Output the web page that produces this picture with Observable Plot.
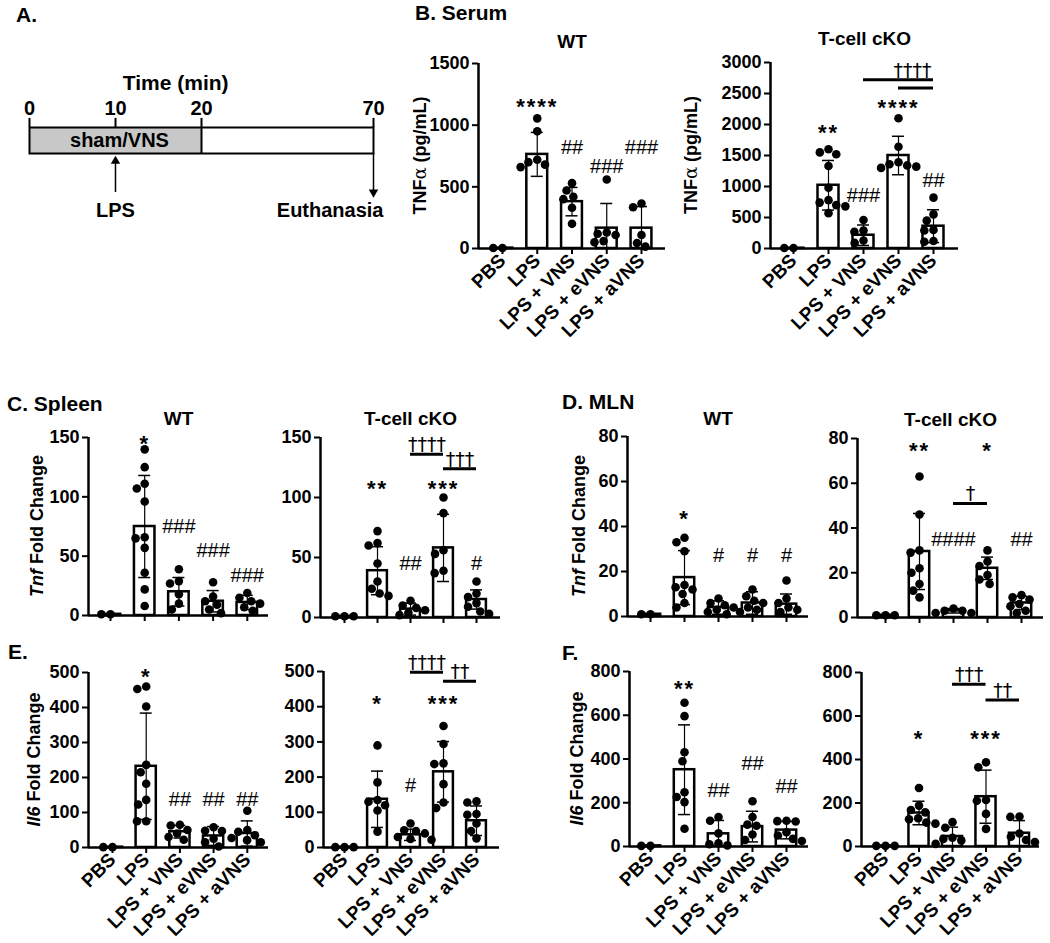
<!DOCTYPE html>
<html><head><meta charset="utf-8">
<script src="https://cdn.jsdelivr.net/npm/d3@7"></script>
<script src="https://cdn.jsdelivr.net/npm/@observablehq/plot@0.6"></script>
<style>
html,body{margin:0;padding:0;background:#fff;overflow:hidden;}
#fig{position:relative;width:1050px;height:943px;background:#fff;overflow:hidden;font-family:"Liberation Sans",Arial,sans-serif;}
#fig svg{position:absolute;left:0;top:0;}
</style></head>
<body><div id="fig"></div>
<script>
// ---------------- DATA ----------------
const categories = ["PBS", "LPS", "LPS + VNS", "LPS + eVNS", "LPS + aVNS"];

// Panel A timeline
const timeTicks = [0, 10, 20, 70];
const shamWindow = [{start: 0, end: 20, label: "sham/VNS"}];
const timeEvents = [{t: 10, label: "LPS", dir: "up"}, {t: 70, label: "Euthanasia", dir: "down"}];

// B. Serum TNFa (pg/mL)
const serumWT_mean = [3, 763, 380, 165, 165];
const serumWT_sd = [0, 178, 115, 200, 175];
const serumWT_points = [[4, 4], [1055, 950, 720, 700, 680, 660], [530, 470, 420, 400, 330, 200], [560, 130, 120, 110, 60, 50], [365, 335, 110, 45, 15]];
const serumWT_sig = ["", "****", "##", "###", "###"];
const serumWT_sigY = [null, 1200, 822, 668, 822];

const serumKO_mean = [5, 1020, 214, 1500, 360];
const serumKO_sd = [0, 400, 165, 310, 265];
const serumKO_points = [[8, 8], [1600, 1550, 1520, 1330, 980, 780, 740, 700, 680, 570], [460, 290, 270, 130, 90], [2100, 1640, 1390, 1360, 1340, 1320, 1300], [820, 550, 450, 300, 290, 120, 110]];
const serumKO_sig = ["", "**", "###", "****", "##"];
const serumKO_sigY = [null, 1955, 857, 2357, 1098];
const serumKO_brackets = [{from: "LPS + VNS", to: "LPS + aVNS", y: 2721, label: "††††", labelAt: 3.4}, {from: "LPS + eVNS", to: "LPS + aVNS", y: 2587, label: ""}];

// C. Spleen Tnf fold change
const spleenTnfWT_mean = [1, 75, 20, 12, 11];
const spleenTnfWT_sd = [0, 43, 12, 9, 6];
const spleenTnfWT_points = [[1, 1], [140, 125, 111, 107, 96, 66, 65, 57, 36, 22, 8], [39, 29, 27, 18, 10, 5], [28, 16, 12, 9, 5, 2], [19, 15, 12, 10, 7, 4]];
const spleenTnfWT_sig = ["", "*", "###", "###", "###"];
const spleenTnfWT_sigY = [null, 150, 75, 55, 34];

const spleenTnfKO_mean = [1, 39, 7, 58, 15];
const spleenTnfKO_sd = [0, 20, 5, 28, 8];
const spleenTnfKO_points = [[1, 1, 1], [72, 62, 60, 45, 30, 24, 20, 18], [14, 10, 8, 6, 4, 2], [100, 87, 56, 53, 39, 37], [30, 20, 17, 12, 9, 5, 3]];
const spleenTnfKO_sig = ["", "**", "##", "***", "#"];
const spleenTnfKO_sigY = [null, 112, 45, 112, 45];
const spleenTnfKO_brackets = [{from: "LPS + VNS", to: "LPS + eVNS", y: 136, label: "††††"}, {from: "LPS + eVNS", to: "LPS + aVNS", y: 124, label: "†††"}];

// D. MLN Tnf fold change
const mlnTnfWT_mean = [1, 17.3, 4, 6, 5.5];
const mlnTnfWT_sd = [0, 12, 3, 5, 4.5];
const mlnTnfWT_points = [[1, 1], [35, 33, 29, 14, 13, 12, 10, 6, 4], [8, 6, 5, 4, 3, 2, 1], [12, 9, 7, 6, 4, 3, 2], [16, 8, 6, 4, 3, 2]];
const mlnTnfWT_sig = ["", "*", "#", "#", "#"];
const mlnTnfWT_sigY = [null, 46, 27, 27, 27];

const mlnTnfKO_mean = [1, 29.5, 3, 22, 6.5];
const mlnTnfKO_sd = [0, 17, 1, 5, 3];
const mlnTnfKO_points = [[1, 1, 1], [63, 46, 30, 29, 22, 20, 15, 12, 9], [4, 3, 3, 2, 2], [30, 25, 23, 19, 17, 15], [10, 9, 8, 6, 5, 3, 2]];
const mlnTnfKO_sig = ["", "**", "####", "*", "##"];
const mlnTnfKO_sigY = [null, 77, 35, 77, 35];
const mlnTnfKO_brackets = [{from: "LPS + VNS", to: "LPS + eVNS", y: 51, label: "†"}];

// E. Spleen Il6 fold change
const spleenIl6WT_mean = [1, 232, 45, 33, 40];
const spleenIl6WT_sd = [0, 152, 18, 27, 36];
const spleenIl6WT_points = [[1, 1], [460, 453, 403, 236, 215, 182, 136, 123, 75, 75], [65, 63, 50, 40, 30, 22], [58, 48, 47, 25, 15, 3], [105, 50, 45, 35, 27, 21, 15]];
const spleenIl6WT_sig = ["", "*", "##", "##", "##"];
const spleenIl6WT_sigY = [null, 505, 136, 136, 136];

const spleenIl6KO_mean = [1, 137, 36, 215, 76];
const spleenIl6KO_sd = [0, 80, 16, 86, 42];
const spleenIl6KO_points = [[1, 1, 1], [290, 185, 135, 130, 120, 105, 45], [68, 49, 47, 40, 30, 24, 22], [345, 294, 239, 237, 180, 128, 112], [131, 128, 95, 93, 68, 47, 26]];
const spleenIl6KO_sig = ["", "*", "#", "***", ""];
const spleenIl6KO_sigY = [null, 425, 175, 425, null];
const spleenIl6KO_brackets = [{from: "LPS + VNS", to: "LPS + eVNS", y: 498, label: "††††"}, {from: "LPS + eVNS", to: "LPS + aVNS", y: 472, label: "††"}];

// F. MLN Il6 fold change
const mlnIl6WT_mean = [3, 351, 58, 91, 75];
const mlnIl6WT_sd = [0, 205, 61, 70, 40];
const mlnIl6WT_points = [[3, 3], [657, 596, 431, 390, 248, 226, 203, 81], [135, 118, 60, 15, 10, 5], [207, 135, 100, 95, 55, 30], [118, 116, 114, 65, 50, 35, 25]];
const mlnIl6WT_sig = ["", "**", "##", "##", "##"];
const mlnIl6WT_sigY = [null, 747, 256, 378, 272];

const mlnIl6KO_mean = [3, 154, 46, 229, 61];
const mlnIl6KO_sd = [0, 54, 43, 122, 58];
const mlnIl6KO_points = [[3, 3, 3], [269, 188, 168, 157, 130, 125, 110, 105], [112, 86, 40, 35, 28, 12], [387, 364, 214, 210, 150, 81], [138, 136, 60, 45, 30, 20]];
const mlnIl6KO_sig = ["", "*", "", "***", ""];
const mlnIl6KO_sigY = [null, 520, null, 520, null];
const mlnIl6KO_brackets = [{from: "LPS + VNS", to: "LPS + eVNS", y: 746, label: "†††"}, {from: "LPS + eVNS", to: "LPS + aVNS", y: 673, label: "††"}];

// ---------------- LAYOUT ----------------
const W = 1050, H = 943, R = 4.3;
const panels = [
  {mean: serumWT_mean, sd: serumWT_sd, pts: serumWT_points, sig: serumWT_sig, sigY: serumWT_sigY, brackets: [],
   yMax: 1500, yTicks: [0, 500, 1000, 1500], left: 478, right: 665, first: 502, step: 34.75, top: 63, bottom: 248,
   title: "WT", titleBase: 47, xLabels: true, ylab: "tnfa", ylabDx: -52},
  {mean: serumKO_mean, sd: serumKO_sd, pts: serumKO_points, sig: serumKO_sig, sigY: serumKO_sigY, brackets: serumKO_brackets,
   yMax: 3000, yTicks: [0, 500, 1000, 1500, 2000, 2500, 3000], left: 770, right: 958, first: 793, step: 35, top: 62, bottom: 248,
   title: "T-cell cKO", titleBase: 44, xLabels: true, ylab: "tnfa", ylabDx: -73},
  {mean: spleenTnfWT_mean, sd: spleenTnfWT_sd, pts: spleenTnfWT_points, sig: spleenTnfWT_sig, sigY: spleenTnfWT_sigY, brackets: [],
   yMax: 150, yTicks: [0, 50, 100, 150], left: 88, right: 268, first: 110, step: 34.2, top: 437, bottom: 615,
   title: "WT", titleBase: 424, xLabels: false, ylab: "tnf", ylabDx: -45},
  {mean: spleenTnfKO_mean, sd: spleenTnfKO_sd, pts: spleenTnfKO_points, sig: spleenTnfKO_sig, sigY: spleenTnfKO_sigY, brackets: spleenTnfKO_brackets,
   yMax: 150, yTicks: [0, 50, 100, 150], left: 320, right: 500, first: 344, step: 33, top: 437, bottom: 617,
   title: "T-cell cKO", titleBase: 424, xLabels: false, ylab: null},
  {mean: mlnTnfWT_mean, sd: mlnTnfWT_sd, pts: mlnTnfWT_points, sig: mlnTnfWT_sig, sigY: mlnTnfWT_sigY, brackets: [],
   yMax: 80, yTicks: [0, 20, 40, 60, 80], left: 627, right: 808, first: 650, step: 34, top: 436, bottom: 616,
   title: "WT", titleBase: 424, xLabels: false, ylab: "tnf", ylabDx: -42},
  {mean: mlnTnfKO_mean, sd: mlnTnfKO_sd, pts: mlnTnfKO_points, sig: mlnTnfKO_sig, sigY: mlnTnfKO_sigY, brackets: mlnTnfKO_brackets,
   yMax: 80, yTicks: [0, 20, 40, 60, 80], left: 857, right: 1043, first: 885, step: 34, top: 438, bottom: 617,
   title: "T-cell cKO", titleBase: 425, xLabels: false, ylab: null},
  {mean: spleenIl6WT_mean, sd: spleenIl6WT_sd, pts: spleenIl6WT_points, sig: spleenIl6WT_sig, sigY: spleenIl6WT_sigY, brackets: [],
   yMax: 500, yTicks: [0, 100, 200, 300, 400, 500], left: 88, right: 268, first: 112, step: 33.7, top: 672, bottom: 847,
   title: null, xLabels: true, ylab: "il6", ylabDx: -48},
  {mean: spleenIl6KO_mean, sd: spleenIl6KO_sd, pts: spleenIl6KO_points, sig: spleenIl6KO_sig, sigY: spleenIl6KO_sigY, brackets: spleenIl6KO_brackets,
   yMax: 500, yTicks: [0, 100, 200, 300, 400, 500], left: 323, right: 499, first: 344, step: 33, top: 671, bottom: 847,
   title: null, xLabels: true, ylab: null},
  {mean: mlnIl6WT_mean, sd: mlnIl6WT_sd, pts: mlnIl6WT_points, sig: mlnIl6WT_sig, sigY: mlnIl6WT_sigY, brackets: [],
   yMax: 800, yTicks: [0, 200, 400, 600, 800], left: 629, right: 808, first: 650, step: 34, top: 671, bottom: 846,
   title: null, xLabels: true, ylab: "il6", ylabDx: -46},
  {mean: mlnIl6KO_mean, sd: mlnIl6KO_sd, pts: mlnIl6KO_points, sig: mlnIl6KO_sig, sigY: mlnIl6KO_sigY, brackets: mlnIl6KO_brackets,
   yMax: 800, yTicks: [0, 200, 400, 600, 800], left: 861, right: 1039, first: 885, step: 33.5, top: 672, bottom: 846,
   title: null, xLabels: true, ylab: null}
];

const sectionLabels = [
  {text: "A.", x: 16, y: 22}, {text: "B. Serum", x: 415, y: 20},
  {text: "C. Spleen", x: 7, y: 411}, {text: "D. MLN", x: 562, y: 409},
  {text: "E.", x: 8, y: 659}, {text: "F.", x: 562, y: 660}
];

const yLabelParts = {
  tnfa: [["TNF", "bold", "normal", null], ["α", "normal", "normal", "DejaVu Serif"], [" (pg/mL)", "bold", "normal", null]],
  tnf: [["Tnf", "bold", "italic", null], [" Fold Change", "bold", "normal", null]],
  il6: [["Il6", "bold", "italic", null], [" Fold Change", "bold", "normal", null]]
};

const fig = document.getElementById("fig");
const baseStyle = {background: "transparent", fontFamily: "'Liberation Sans', Arial, sans-serif", fontSize: "18px", fontWeight: "bold", color: "black", overflow: "visible"};

// beeswarm layout for dot offsets (pixel space -> x units)
function swarm(values, pxPerY, pxPerX, r) {
  const D = 2 * r + 0.6;
  const placed = [];
  const out = new Array(values.length);
  const order = values.map((v, i) => i).sort((a, b) => values[b] - values[a]);
  for (const i of order) {
    const y = values[i] * pxPerY;
    const cands = [0];
    for (const p of placed) {
      const dy = Math.abs(p.y - y);
      if (dy < D) { const dx = Math.sqrt(D * D - dy * dy); cands.push(p.x + dx, p.x - dx); }
    }
    cands.sort((a, b) => Math.abs(a) - Math.abs(b) || a - b);
    let x = 0;
    for (const c of cands) {
      if (placed.every(p => (p.x - c) ** 2 + (p.y - y) ** 2 >= D * D - 1e-6)) { x = c; break; }
    }
    placed.push({x, y});
    out[i] = x / pxPerX;
  }
  return out;
}

// ---------------- PANEL A ----------------
{
  const svg = Plot.plot({
    width: W, height: H,
    marginLeft: 29, marginRight: W - 373, marginTop: 127, marginBottom: H - 153,
    x: {type: "linear", domain: [0, 20, 70], range: [29, 201, 373], axis: null},
    y: {domain: [0, 1], axis: null},
    style: baseStyle,
    marks: [
      Plot.rect(shamWindow, {x1: "start", x2: "end", y1: 0, y2: 1, fill: "#c8c8c8"}),
      Plot.ruleX(shamWindow, {x: "end", y1: 0, y2: 1, stroke: "black", strokeWidth: 2}),
      Plot.frame({stroke: "black", strokeWidth: 2}),
      Plot.ruleX(timeTicks, {x: d => d, y1: 1, y2: 1.35, stroke: "black", strokeWidth: 2}),
      Plot.text(timeTicks, {x: d => d, y: 1.35, text: d => String(d), lineAnchor: "bottom", dy: -3, fontSize: 20}),
      Plot.text(["Time (min)"], {x: 17, frameAnchor: "top", text: d => d, lineAnchor: "bottom", dy: -38, fontSize: 21}),
      Plot.text(shamWindow, {x: d => (d.start + d.end) / 2, y: 0.5, text: "label", dx: 4, fontSize: 20}),
      Plot.ruleX(timeEvents.filter(d => d.dir === "up"), {x: "t", y1: -1.5, y2: -0.3, stroke: "black", strokeWidth: 1.5}),
      Plot.dot(timeEvents.filter(d => d.dir === "up"), {x: "t", y: -0.08, dy: 5.5, symbol: "triangle", r: 3.5, fill: "black"}),
      Plot.ruleX(timeEvents.filter(d => d.dir === "down"), {x: "t", y1: 0, y2: -1.5, stroke: "black", strokeWidth: 1.5}),
      Plot.dot(timeEvents.filter(d => d.dir === "down"), {x: "t", y: -1.7, dy: -5.5, symbol: "triangle", rotate: 180, r: 3.5, fill: "black"}),
      Plot.text(timeEvents.filter(d => d.dir === "up"), {x: "t", y: -2.2, text: "label", fontSize: 20}),
      Plot.text(timeEvents.filter(d => d.dir === "down"), {x: "t", y: -2.2, text: "label", textAnchor: "end", dx: 10, fontSize: 20})
    ]
  });
  fig.appendChild(svg);
}

// ---------------- BAR PANELS ----------------
for (const p of panels) {
  const x0 = (p.left - p.first) / p.step, x1 = (p.right - p.first) / p.step;
  const groups = categories.map((c, i) => ({i, c, m: p.mean[i], s: p.sd[i]}));
  const withErr = groups.filter(d => d.s > 0);
  const pxY = (p.bottom - p.top) / p.yMax;
  const dots = [];
  p.pts.forEach((vals, i) => {
    const off = swarm(vals, pxY, p.step, R);
    vals.forEach((v, k) => dots.push({x: i + off[k], v}));
  });
  const capHalf = 6 / p.step;
  const sigs = p.sig.map((s, i) => ({i, s, y: p.sigY[i]})).filter(d => d.s);
  const stars = sigs.filter(d => d.s.includes("*"));
  const hashes = sigs.filter(d => !d.s.includes("*"));
  const br = p.brackets.map(b => {
    const a = categories.indexOf(b.from), z = categories.indexOf(b.to);
    return {x1: a, x2: z, y: b.y, label: b.label, lx: b.labelAt != null ? b.labelAt : (a + z) / 2};
  });

  const marks = [
    Plot.rect(groups, {x1: d => d.i - 0.3, x2: d => d.i + 0.3, y1: 0, y2: "m", fill: "white", stroke: "black", strokeWidth: 2.5}),
    Plot.ruleX(withErr, {x: "i", y1: d => Math.max(0, d.m - d.s), y2: d => d.m + d.s, stroke: "black", strokeWidth: 1.2}),
    Plot.ruleY(withErr, {y: d => d.m + d.s, x1: d => d.i - capHalf, x2: d => d.i + capHalf, stroke: "black", strokeWidth: 1.5}),
    Plot.ruleY(withErr.filter(d => d.m - d.s > 0), {y: d => d.m - d.s, x1: d => d.i - capHalf, x2: d => d.i + capHalf, stroke: "black", strokeWidth: 1.5}),
    Plot.dot(dots, {x: "x", y: "v", r: R, fill: "black", stroke: "none"}),
    Plot.ruleX([x0], {y1: 0, y2: p.yMax, stroke: "black", strokeWidth: 2.5}),
    Plot.ruleY([0], {stroke: "black", strokeWidth: 2.5}),
    Plot.axisY(p.yTicks, {tickSize: 6, tickPadding: 3, strokeWidth: 2, tickFormat: d => String(d), label: null}),
    Plot.axisX([0, 1, 2, 3, 4], {tickSize: 6, tickPadding: 3, strokeWidth: 2, tickRotate: p.xLabels ? -45 : 0,
      tickFormat: p.xLabels ? (i => categories[i]) : (() => ""), label: null, fontSize: 19}),
    Plot.text(stars, {x: "i", y: "y", text: "s", fontSize: 22, fontWeight: "bold", dy: 6}),
    Plot.text(hashes, {x: "i", y: "y", text: "s", fontSize: 20, fontWeight: "normal"}),
    Plot.ruleY(br, {y: "y", x1: "x1", x2: "x2", stroke: "black", strokeWidth: 3}),
    Plot.text(br.filter(b => b.label), {x: "lx", y: "y", text: "label", lineAnchor: "bottom", dy: -3, fontSize: 19, fontWeight: "normal", fontFamily: "'DejaVu Sans', sans-serif", fill: "black"})
  ];
  if (p.title) marks.push(Plot.text([p.title], {frameAnchor: "top", text: d => d, lineAnchor: "bottom", dy: p.titleBase - p.top, fontSize: 19, fontWeight: "bold"}));

  const svg = Plot.plot({
    width: W, height: H,
    marginLeft: p.left, marginRight: W - p.right, marginTop: p.top, marginBottom: H - p.bottom,
    x: {type: "linear", domain: [x0, x1]},
    y: {type: "linear", domain: [0, p.yMax]},
    style: baseStyle,
    marks
  });
  d3.select(svg).selectAll("text").filter(function () { return /^\*+$/.test(this.textContent); }).style("letter-spacing", "2px");
  if (p.ylab) {
    const t = d3.select(svg).append("text")
      .attr("transform", `translate(${p.left + p.ylabDx},${(p.top + p.bottom) / 2}) rotate(-90)`)
      .attr("text-anchor", "middle").style("font-size", "18px").attr("fill", "black");
    for (const [txt, wt, st, fam] of yLabelParts[p.ylab]) {
      const ts = t.append("tspan").text(txt).style("font-weight", wt).style("font-style", st);
      if (fam) ts.style("font-family", fam);
    }
  }
  fig.appendChild(svg);
}

// ---------------- SECTION LABELS ----------------
{
  const svg = d3.create("svg").attr("width", W).attr("height", H)
    .style("font-family", "'Liberation Sans', Arial, sans-serif");
  svg.selectAll("text").data(sectionLabels).join("text")
    .attr("x", d => d.x).attr("y", d => d.y)
    .style("font-size", "21px").style("font-weight", "bold").attr("fill", "black")
    .text(d => d.text);
  fig.appendChild(svg.node());
}
</script>
</body></html>
